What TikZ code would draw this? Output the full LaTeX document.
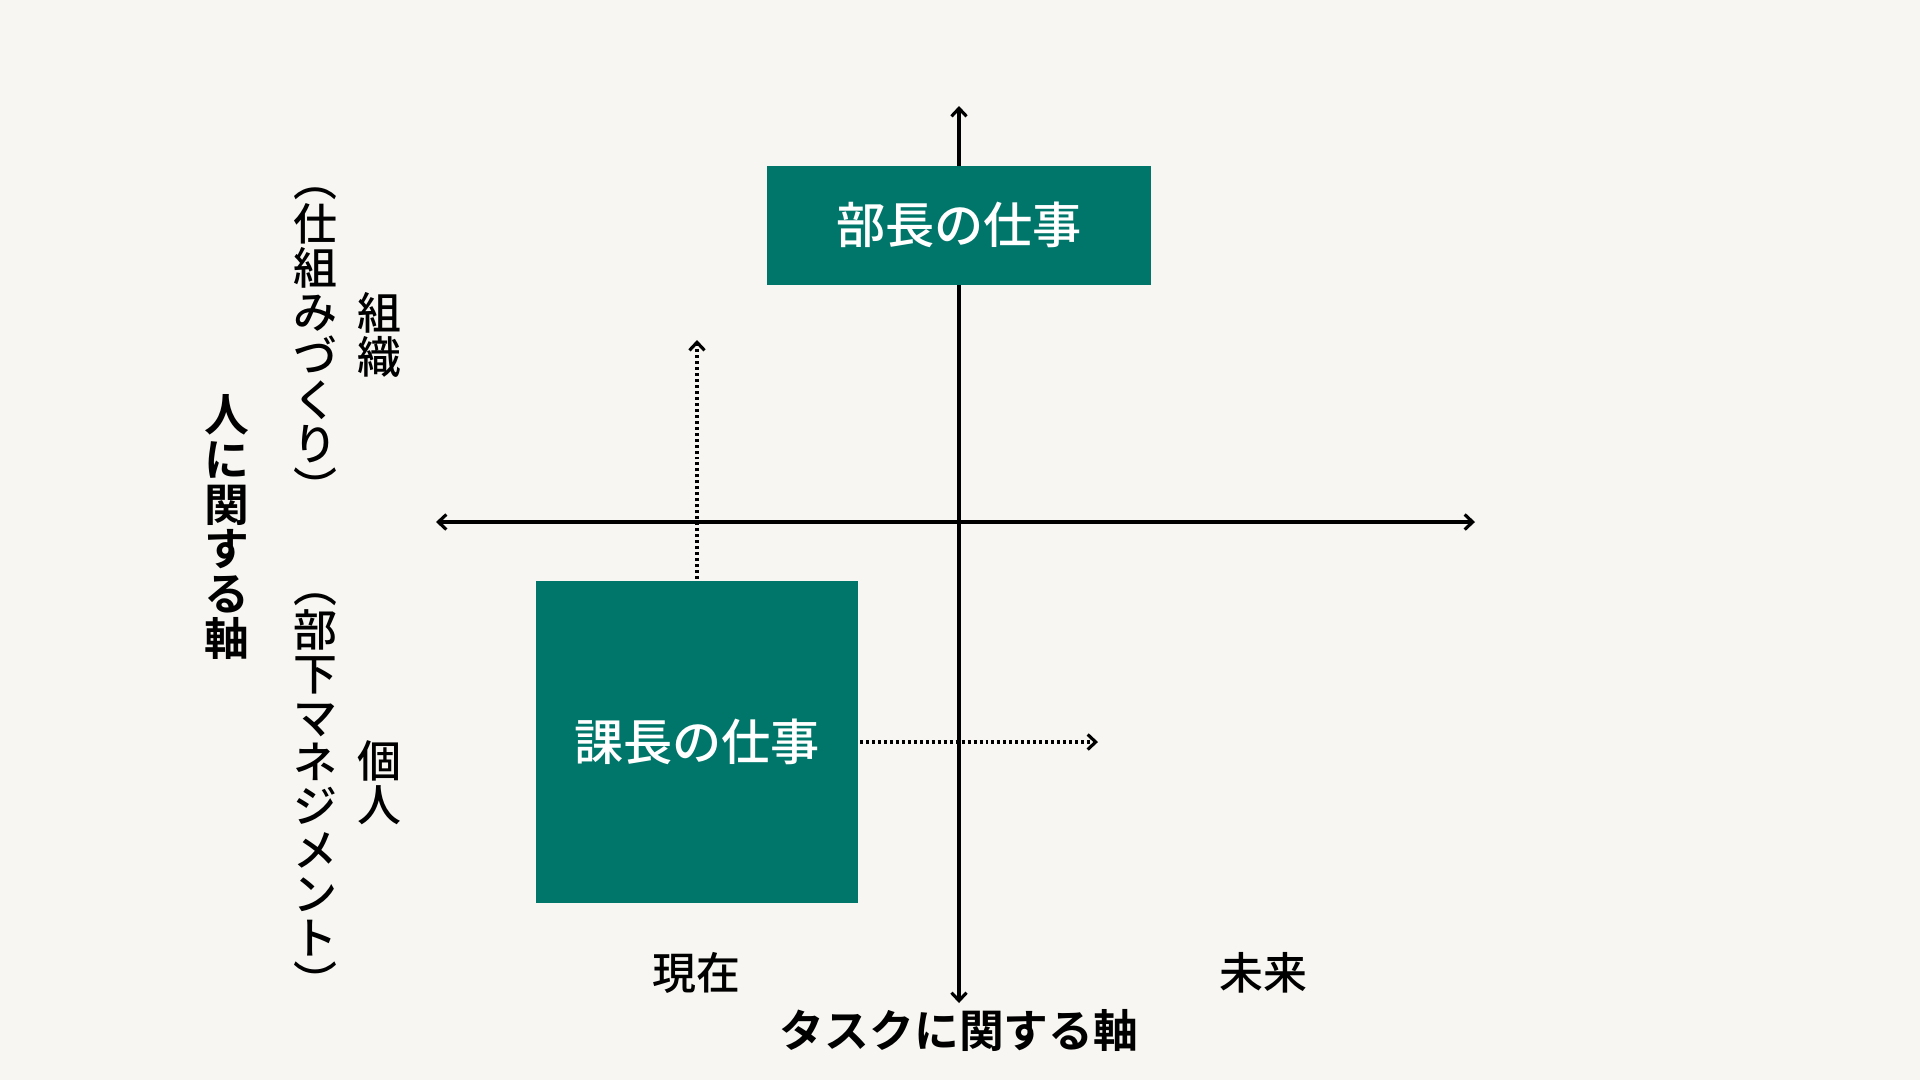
\documentclass[tikz,border=0pt]{standalone}
\usepackage{fontspec}
\setmainfont{Noto Sans CJK JP Medium}[BoldFont={Noto Sans CJK JP Bold}]
\usepackage{tikz}
\usetikzlibrary{arrows.meta, positioning}
\definecolor{bgpaper}{HTML}{F7F6F2}
\definecolor{tealbox}{HTML}{00766A}

\begin{document}
\begin{tikzpicture}[x=0.02cm, y=-0.02cm, >={Straight Barb[length=1.6mm,width=3mm]},
		line width=1.8pt, line join=round,
		job box/.style={fill=tealbox, text=white, inner sep=0pt, font=\fontsize{28}{28}\selectfont},
		side label/.style={align=center, inner sep=0pt, font=\fontsize{25}{25}\selectfont},
		axis title/.style={align=center, inner sep=0pt, font=\fontsize{25.5}{25.5}\selectfont\bfseries},
		dotted arrow/.style={->, dash pattern=on 1.7pt off 1.7pt}]
		
		\fill[bgpaper] (0,0) rectangle (1920,1080);
		
		\coordinate (axis top) at (959,106);
		\coordinate (axis bottom) at (959,1003);
		\coordinate (axis left) at (436,522);
		\coordinate (axis right) at (1475,522);
		\coordinate (up tip) at (697,340);
		\coordinate (right tip) at (1098,742);
		
		\draw[<->] (axis left) -- (axis right);
		\draw[<->] (axis top) -- (axis bottom);
		
		\node[job box, minimum width=7.68cm, minimum height=2.38cm] (bucho) at (959,225) {部長の仕事};
		\node[job box, minimum width=6.46cm, minimum height=6.46cm] (kacho) at (697,742) {課長の仕事};
		
		\draw[dotted arrow] (kacho) -- (up tip);
		\draw[dotted arrow] (kacho) -- (right tip);
		
		\node[axis title] (hito axis) at (227,527) {人\\に\\関\\す\\る\\軸};
		\node[side label] (shikumi) at (315,346) {︵\\仕\\組\\み\\づ\\く\\り\\︶};
		\node[side label] (buka) at (315,796) {︵\\部\\下\\マ\\ネ\\ジ\\メ\\ン\\ト\\︶};
		\node[side label] (soshiki) at (379,335) {組\\織};
		\node[side label] (kojin) at (379,783) {個\\人};
		
		\node[side label] (genzai) at (696,973) {現在};
		\node[side label] (mirai) at (1263,973) {未来};
		\node[axis title] (task axis) at (959,1030) {タスクに関する軸};
		
	\end{tikzpicture}
\end{document}
